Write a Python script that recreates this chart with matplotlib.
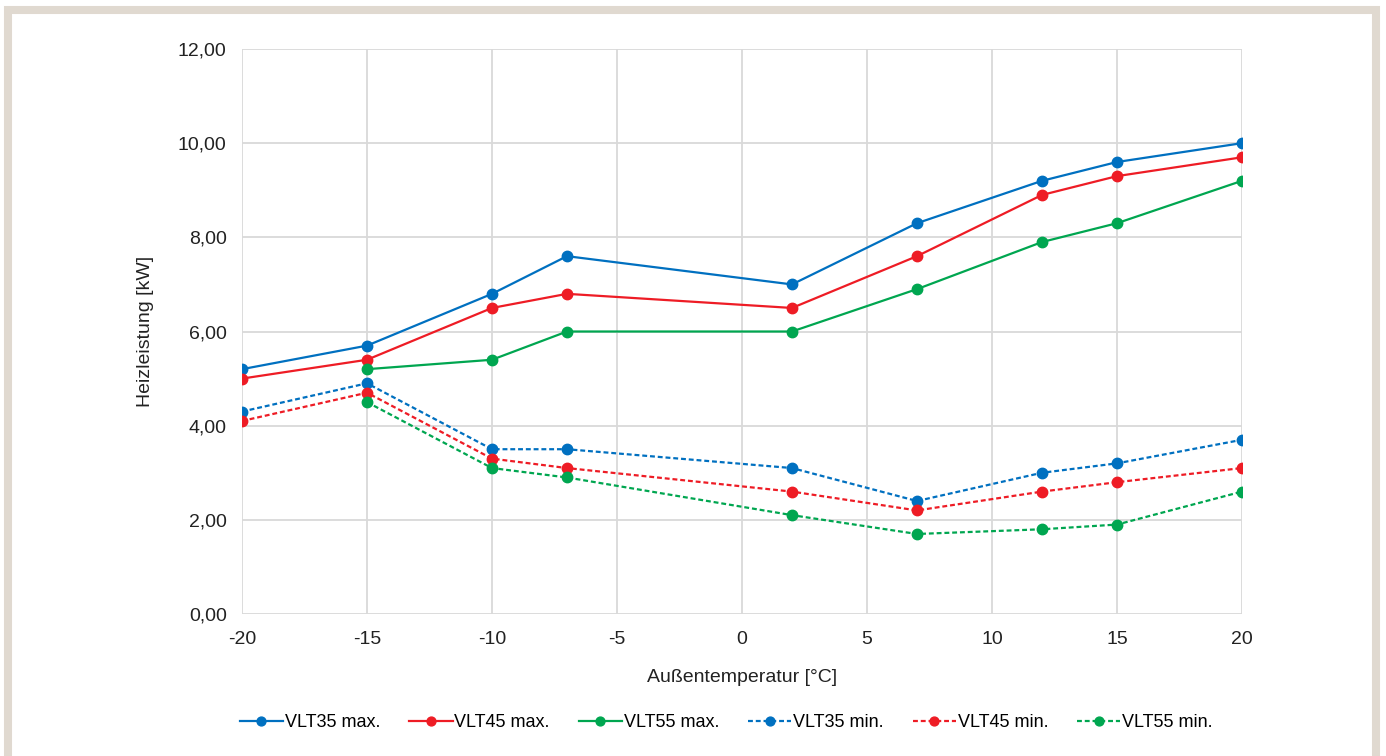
import matplotlib
matplotlib.use("Agg")
import matplotlib.pyplot as plt
from matplotlib.patches import Rectangle
from matplotlib.ticker import FuncFormatter

plt.rcParams['font.family'] = ['Liberation Sans Narrow', 'Liberation Sans', 'DejaVu Sans']
plt.rcParams['axes.unicode_minus'] = False

# Außentemperatur in °C
temps = [-20, -15, -10, -7, 2, 7, 12, 15, 20]

# Heizleistung in kW (None = kein Wert)
vlt35_max = [5.2, 5.7, 6.8, 7.6, 7.0, 8.3, 9.2, 9.6, 10.0]
vlt45_max = [5.0, 5.4, 6.5, 6.8, 6.5, 7.6, 8.9, 9.3, 9.7]
vlt55_max = [None, 5.2, 5.4, 6.0, 6.0, 6.9, 7.9, 8.3, 9.2]
vlt35_min = [4.3, 4.9, 3.5, 3.5, 3.1, 2.4, 3.0, 3.2, 3.7]
vlt45_min = [4.1, 4.7, 3.3, 3.1, 2.6, 2.2, 2.6, 2.8, 3.1]
vlt55_min = [None, 4.5, 3.1, 2.9, 2.1, 1.7, 1.8, 1.9, 2.6]

dash = (0, (2.2, 1.3))
series = [
    ("VLT35 max.", vlt35_max, "#0070c0", "-"),
    ("VLT45 max.", vlt45_max, "#ee1c25", "-"),
    ("VLT55 max.", vlt55_max, "#00a650", "-"),
    ("VLT35 min.", vlt35_min, "#0070c0", dash),
    ("VLT45 min.", vlt45_min, "#ee1c25", dash),
    ("VLT55 min.", vlt55_min, "#00a650", dash),
]

fig = plt.figure(figsize=(13.86, 7.56), dpi=100)
ax = fig.add_axes([0.1746, 0.1878, 0.7215, 0.7474])

for name, vals, col, ls in series:
    xs = [t for t, v in zip(temps, vals) if v is not None]
    ys = [v for v in vals if v is not None]
    ax.plot(xs, ys, color=col, linestyle=ls, linewidth=1.6,
            marker='o', markersize=7.5, label=name, zorder=3)

ax.set_xlim(-20, 20)
ax.set_ylim(0, 12)
ax.set_xticks(range(-20, 21, 5))
ax.set_yticks(range(0, 13, 2))
ax.yaxis.set_major_formatter(FuncFormatter(lambda v, p: f"{v:.2f}".replace('.', ',')))
ax.grid(True, color='#d9d9d9', linewidth=1.3, zorder=0)
for s in ax.spines.values():
    s.set_visible(False)
ax.tick_params(length=0, labelsize=14, colors='#222222', pad=12)
ax.tick_params(axis='y', pad=11)

ax.set_xlabel("Außentemperatur [°C]", fontsize=14, color='#222222', labelpad=15)
ax.set_ylabel("Heizleistung [kW]", fontsize=14, color='#222222', labelpad=17)

fig.legend(loc='center', bbox_to_anchor=(0.524, 0.044), ncol=6, frameon=False,
           fontsize=13, handlelength=2.4, columnspacing=1.6, handletextpad=0.1,
           markerscale=0.85)

# beiger Rahmen
fig.patches.append(Rectangle((8 / 1386, -2 / 756), 1368 / 1386, 748 / 756,
                             transform=fig.transFigure, fill=False,
                             edgecolor='#e0d9d0', linewidth=5.8))

fig.savefig("out.png", dpi=100)
